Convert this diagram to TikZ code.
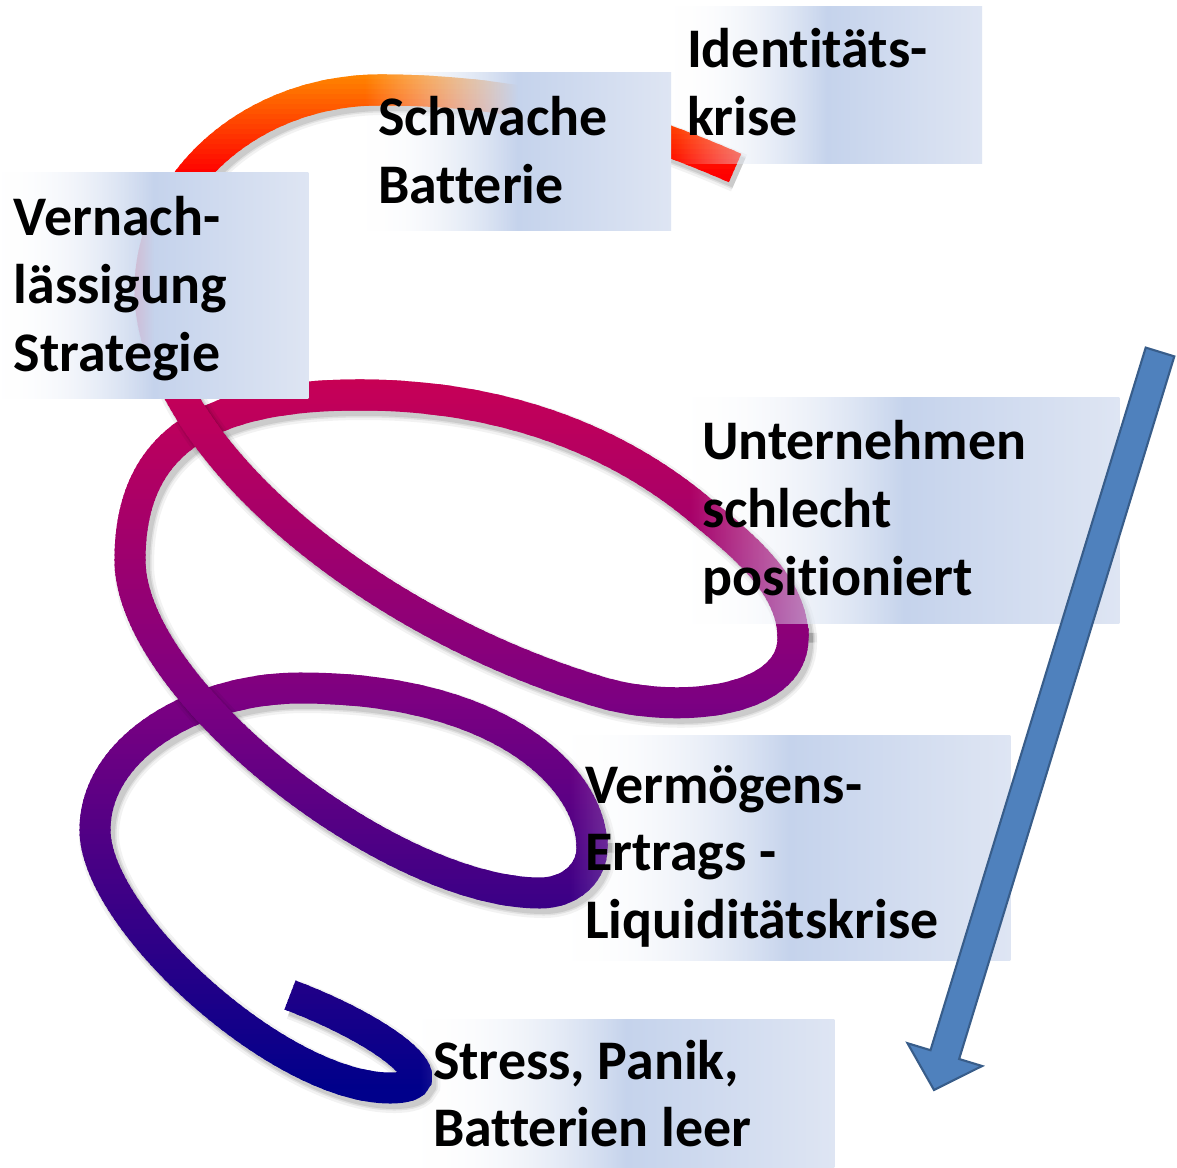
\documentclass[tikz,border=0pt]{standalone}
\usepackage{fontspec}
\setmainfont{Carlito}[Ligatures=NoCommon]
\usetikzlibrary{fadings}

\definecolor{boxmid}{RGB}{197,211,236}
\definecolor{boxright}{RGB}{222,229,243}
\definecolor{arrowfill}{RGB}{79,129,189}
\definecolor{arrowline}{RGB}{56,93,138}

\tikzfading[name=boxfade, left color=transparent!100, right color=transparent!0, middle color=transparent!0]

% spiral centre line in three pieces (back to front: C, B, A); A and B overlap a little into the next piece
\def\segA{(735,168) .. controls (616,116) and (510,90) .. (380,90) .. controls (253,90) and (150,180) .. (150,290) .. controls (150,440) and (360,620) .. (600,692) .. controls (677,715) and (793,703) .. (793,638) -- (793,628)}
\def\segB{(793,638) .. controls (793,583) and (738,542) .. (700,510) .. controls (608,433) and (490,395) .. (360,395) .. controls (210,395) and (130,440) .. (130,560) .. controls (130,690) and (390,893) .. (540,893) .. controls (570,893) and (592,873) .. (592,848) -- (592,838)}
\def\segC{(592,848) .. controls (592,778) and (500,688) .. (300,688) .. controls (200,688) and (95,745) .. (95,830) .. controls (95,920) and (280,1088) .. (390,1088) .. controls (455,1088) and (393,1034) .. (290,995)}

\newcommand{\spshadow}[1]{%
  \begin{scope}[shift={(4,5)}]
    \draw[black, opacity=0.05, line width=0.40cm] #1;
    \draw[black, opacity=0.07, line width=0.35cm] #1;
    \draw[black, opacity=0.09, line width=0.32cm] #1;
  \end{scope}}

% colour of the spiral as a function of height (px from top)
\newcommand{\spcolour}[1]{%
  \pgfmathtruncatemacro\spR{#1<175 ? 255 : (#1<390 ? 255-(#1-175)/215*58 : (#1<700 ? 197-(#1-390)/310*72 : max(0,125-(#1-700)/390*125)))}%
  \pgfmathtruncatemacro\spG{#1<75 ? 135 : (#1<175 ? 135-(#1-75)/100*135 : 0)}%
  \pgfmathtruncatemacro\spB{#1<175 ? 0 : (#1<390 ? (#1-175)/215*88 : (#1<700 ? 88+(#1-390)/310*42 : min(139,130+(#1-700)/390*9)))}%
  \definecolor{spc}{RGB}{\spR,\spG,\spB}}

% draw a spiral piece in horizontal colour bands
\newcommand{\spdraw}[3]{%
  \pgfmathtruncatemacro\spN{(#3-#2)/5}%
  \foreach \k in {0,...,\spN}{%
    \pgfmathsetmacro\ya{#2+5*\k}%
    \pgfmathsetmacro\ym{\ya+2.5}%
    \spcolour{\ym}%
    \begin{scope}
      \clip (0,\ya-0.7) rectangle (1177,\ya+5.7);
      \draw[spc, line width=0.31cm] #1;
    \end{scope}
  }}

\tikzset{
  infobox/.style={rectangle, inner sep=0pt, outer sep=0pt, anchor=north west,
    left color=white, right color=boxright, middle color=boxmid, path fading=boxfade},
  txt/.style={inner sep=0pt, outer sep=0pt, anchor=base west, text=black,
    font=\fontsize{15.9}{19.2}\selectfont\bfseries},
  bigarrow/.style={draw=arrowline, fill=arrowfill, line width=0.6pt, line join=miter}
}

\begin{document}
\begin{tikzpicture}[x=0.01cm,y=-0.01cm]
\useasboundingbox (0,0) rectangle (1177,1168);
\fill[white] (0,0) rectangle (1177,1168);

% spiral, back to front
\spshadow{\segC}
\spdraw{\segC}{665}{1110}
\spshadow{\segB}
\spdraw{\segB}{370}{915}
\spshadow{\segA}
\spdraw{\segA}{60}{730}

% boxes
\node[infobox, minimum width=3.09cm, minimum height=1.56cm] (bIdent) at (673,7) {};
\node[infobox, minimum width=3.06cm, minimum height=1.57cm] (bSchw) at (365,73) {};
\node[infobox, minimum width=3.08cm, minimum height=2.25cm] (bVern) at (0,173) {};
\node[infobox, minimum width=4.29cm, minimum height=2.25cm] (bUnt) at (690,398) {};
\node[infobox, minimum width=4.40cm, minimum height=2.24cm] (bVerm) at (570,736) {};
\node[infobox, minimum width=4.14cm, minimum height=1.49cm] (bStress) at (420,1019) {};

% texts
\node[txt] (tIdent) at (687,68) {\begin{tabular}[t]{@{}l@{}}Identitäts-\\krise\end{tabular}};
\node[txt] (tSchw) at (378,136) {\begin{tabular}[t]{@{}l@{}}Schwache\\Batterie\end{tabular}};
\node[txt] (tVern) at (14,236) {\begin{tabular}[t]{@{}l@{}}Vernach-\\lässigung\\Strategie\end{tabular}};
\node[txt] (tUnt) at (702,460) {\begin{tabular}[t]{@{}l@{}}Unternehmen\\schlecht\\positioniert\end{tabular}};
\node[txt] (tVerm) at (585,803) {\begin{tabular}[t]{@{}l@{}}Vermögens-\\Ertrags -\\Liquiditätskrise\end{tabular}};
\node[txt] (tStress) at (433,1079) {\begin{tabular}[t]{@{}l@{}}Stress, Panik,\\Batterien leer\end{tabular}};

% big arrow
\coordinate (aTL) at (1145.7,347.6);
\coordinate (aTR) at (1174.3,356.4);
\coordinate (aRS) at (959.1,1059.0);
\coordinate (aRB) at (982.1,1066.0);
\coordinate (aTip) at (934,1090);
\coordinate (aLB) at (907.5,1043.2);
\coordinate (aLS) at (930.5,1050.2);
\draw[bigarrow] (aTL) -- (aTR) -- (aRS) -- (aRB) -- (aTip) -- (aLB) -- (aLS) -- cycle;
\end{tikzpicture}
\end{document}
